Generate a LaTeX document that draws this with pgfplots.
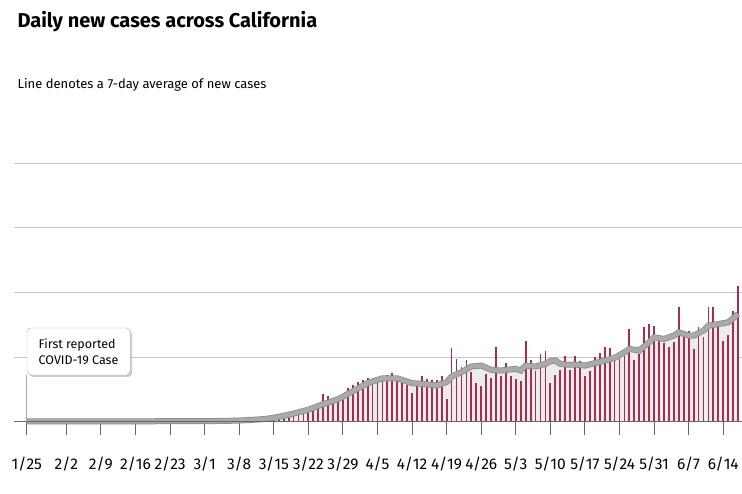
\documentclass[border=0pt]{standalone}
\usepackage{pgfplots}
\pgfplotsset{compat=1.18}
\usepackage{pgfplotstable}
\usepackage{fontspec}
\setmainfont{Fira Sans}
\usetikzlibrary{shadows}
\definecolor{barc}{RGB}{165,45,80}
\definecolor{linec}{RGB}{170,170,170}
\pgfplotstableread{
d v
38 10
39 10
40 20
41 20
42 30
43 30
44 40
45 50
46 60
47 80
48 100
49 130
50 150
51 180
52 220
53 260
54 300
55 350
56 380
57 400
58 380
59 520
60 850
61 800
62 600
63 620
64 770
65 1050
66 1150
67 1250
68 1300
69 1350
70 1350
71 1400
72 1300
73 1450
74 1520
75 1350
76 1300
77 1150
78 900
79 1200
80 1406
81 1334
82 1283
83 1283
84 1406
85 718
86 2288
87 1949
88 1693
89 1919
90 1539
91 1200
92 1098
93 1488
94 1354
95 2309
96 1436
97 1826
98 1426
99 1313
100 1252
101 2493
102 1919
103 1590
104 2103
105 2185
106 1211
107 1447
108 1621
109 2042
110 1621
111 2042
112 1898
113 1416
114 1570
115 2021
116 2124
117 2329
118 2278
119 1898
120 1980
121 2103
122 2873
123 1929
124 2103
125 2945
126 3027
127 2975
128 2514
129 2432
130 2309
131 2483
132 3560
133 2616
134 2801
135 2257
136 2924
137 2637
138 3540
139 3540
140 3078
141 2493
142 2688
143 3437
144 4207
}\bars
\pgfplotstableread{
d v
0 20
10 20
20 20
30 25
38 30
42 40
45 60
48 90
50 130
52 190
54 260
56 340
57 380
60 550
63 700
66 950
69 1200
72 1350
75 1350
78 1200
80 1180
83 1128
85 1234
86 1406
88 1539
90 1714
92 1744
94 1611
96 1590
99 1642
100 1590
101 1744
103 1714
105 1796
106 1877
107 1898
108 1796
109 1775
111 1775
113 1744
115 1816
117 1898
119 1980
121 2155
122 2257
124 2206
126 2463
127 2616
129 2565
131 2668
132 2770
134 2668
135 2668
137 2822
138 2976
140 3027
142 3078
144 3335
}\avg
\begin{document}
\begin{tikzpicture}[x=1pt,y=1pt]
\clip (0,0) rectangle (742,494);
\path (0,0) rectangle (742,494);
\node[anchor=base west,font=\bfseries\fontsize{20}{23}\selectfont] at (14,466) {Daily new cases across California};
\node[anchor=base west,font=\fontsize{13}{15}\selectfont] at (14,405) {Line denotes a 7-day average of new cases};
\begin{axis}[at={(14pt,72pt)},anchor=south west,scale only axis,
 width=728pt,height=259pt,xmin=-2.6,xmax=144.8,ymin=0,ymax=8000,
 axis lines=none,clip=false,
 ]
\foreach \g in {2000,4000,6000,8000}{
 \edef\temp{\noexpand\draw[gray!45,line width=0.8pt] (axis cs:-2.6,\g) -- (axis cs:144.8,\g);}
 \temp
}
\foreach \t/\l [count=\i] in {0/1\slash 25,8/2\slash 2,15/2\slash 9,22/2\slash 16,29/2\slash 23,36/3\slash 1,43/3\slash 8,50/3\slash 15,57/3\slash 22,64/3\slash 29,71/4\slash 5,78/4\slash 12,85/4\slash 19,92/4\slash 26,99/5\slash 3,106/5\slash 10,113/5\slash 17,120/5\slash 24,127/5\slash 31,134/6\slash 7,141/6\slash 14}{
 \edef\temp{\noexpand\draw[gray!80!black,line width=1pt] (axis cs:\t,0) -- (axis cs:\t,-400);
 \noexpand\node[anchor=base,font=\noexpand\fontsize{15.5}{18}\noexpand\selectfont] at (axis cs:\t,0) [yshift=-48pt] {\l};}
 \temp
}
\addplot[fill=gray!15,draw=none] table[x=d,y=v] {\avg} \closedcycle;
\addplot[barc,ycomb,line width=1.8pt] table[x=d,y=v] {\bars};
\addplot[linec!80!black,line width=6pt] table[x=d,y=v] {\avg};
\addplot[linec,line width=4.5pt] table[x=d,y=v] {\avg};
\draw[gray!80!black,line width=1pt] (axis cs:-2.6,0) -- (axis cs:144.8,0);
\draw[gray!70,line width=0.8pt] (axis cs:0,0) -- (axis cs:0,1446);
\node[draw=gray!60,fill=white,rounded corners=4pt,drop shadow={shadow xshift=2pt,shadow yshift=-2pt,opacity=0.4},
 anchor=south west,minimum width=103pt,minimum height=47pt,align=left,inner sep=6pt,
 font=\fontsize{12.5}{16}\selectfont] at (axis cs:0,1446) {First reported\\COVID-19 Case};
\end{axis}
\end{tikzpicture}
\end{document}
